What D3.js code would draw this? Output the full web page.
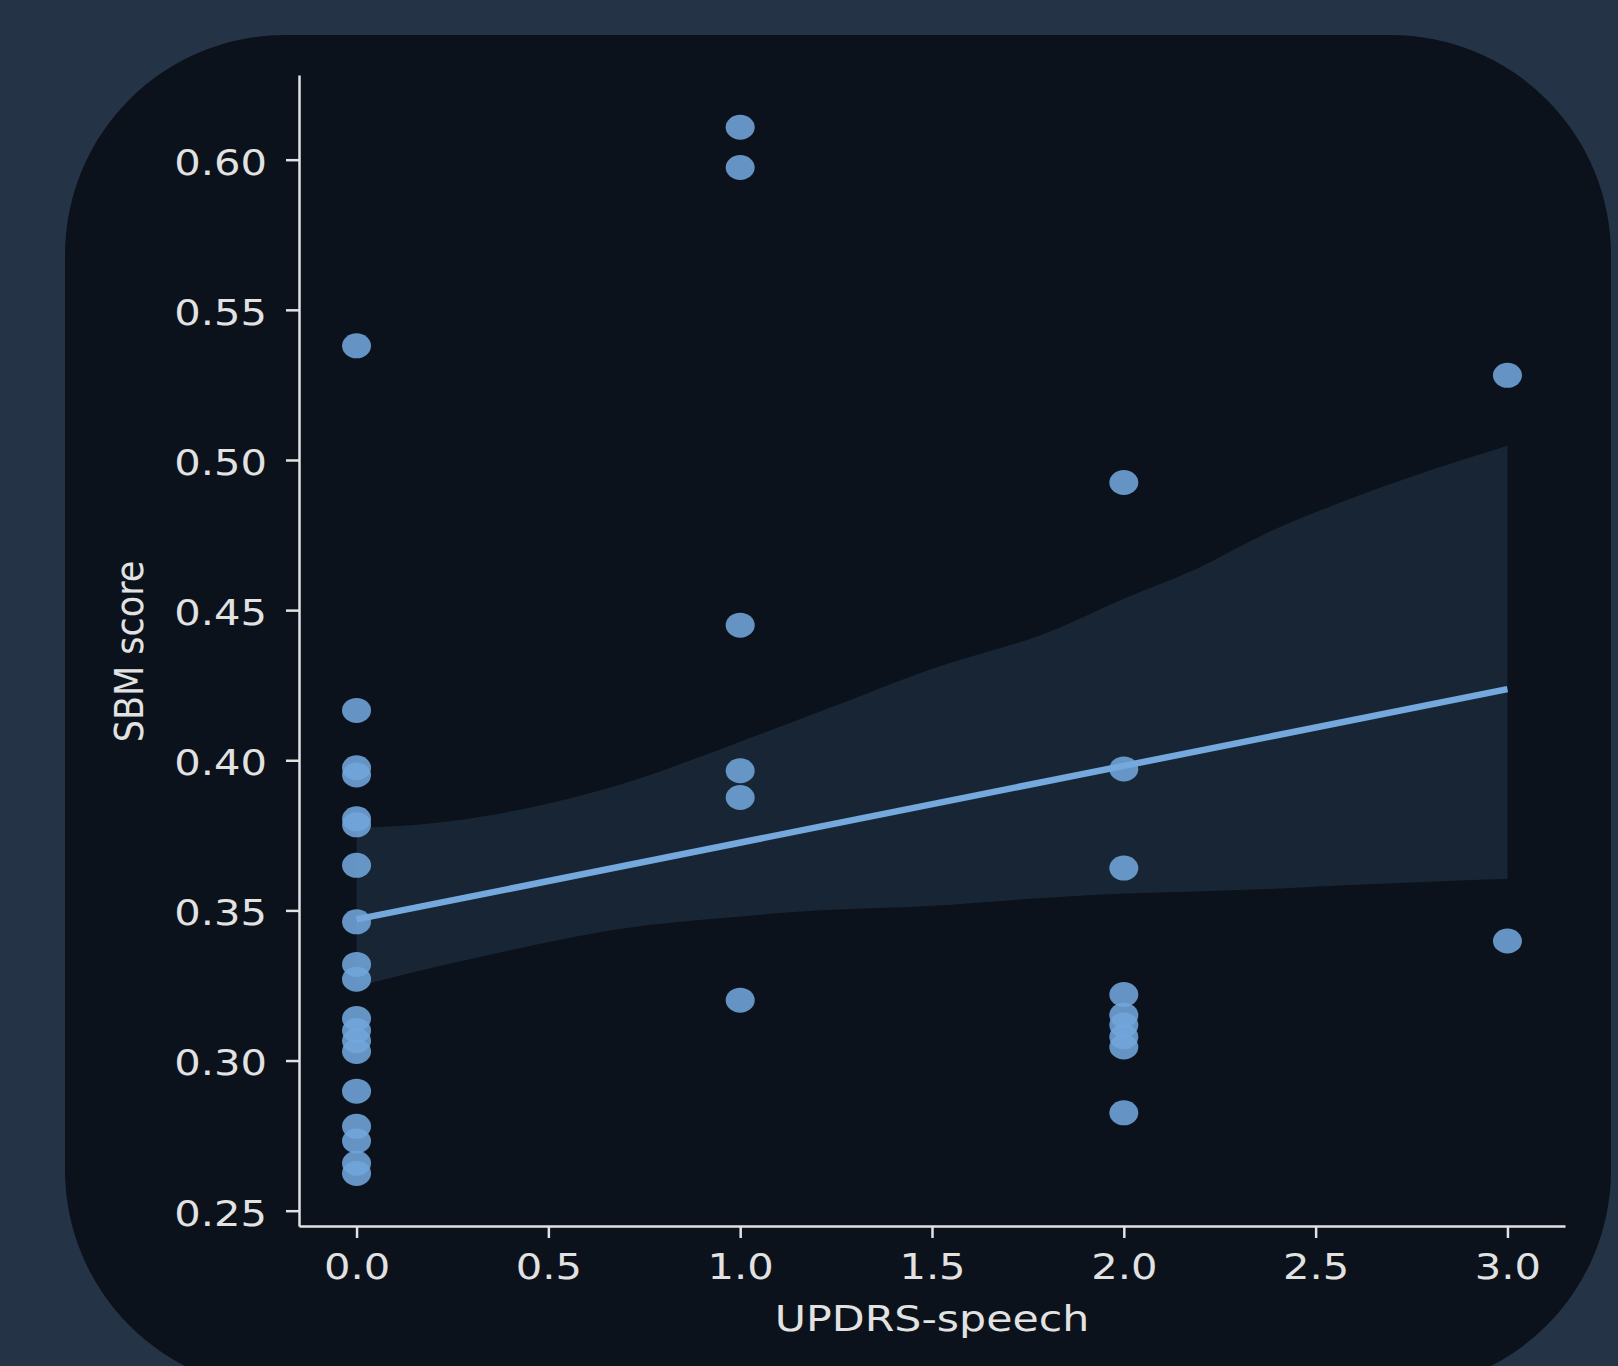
<!DOCTYPE html>
<html>
<head>
<meta charset="utf-8">
<script src="https://cdn.jsdelivr.net/npm/d3@7"></script>
<style>
body { margin: 0; background: #243446; }
svg { display: block; }
</style>
</head>
<body>
<svg id="chart" width="1618" height="1366"></svg>
<script>
// UPDRS-speech rating (x) and SBM score (y), one entry per subject
var speech = [0, 0, 0, 0, 0, 0, 0, 0, 0, 0, 0, 0, 0, 0, 0, 0, 0, 0, 0,
              1, 1, 1, 1, 1, 1,
              2, 2, 2, 2, 2, 2, 2, 2, 2,
              3, 3];
var sbm = [0.538, 0.4166, 0.3975, 0.3951, 0.3805, 0.3785, 0.3650, 0.3462, 0.3320, 0.3271,
           0.3140, 0.3100, 0.3066, 0.3030, 0.2898, 0.2781, 0.2732, 0.2658, 0.2624,
           0.6108, 0.5974, 0.4450, 0.3965, 0.3876, 0.3201,
           0.4925, 0.3971, 0.3641, 0.3220, 0.3151, 0.3118, 0.3079, 0.3045, 0.2826,
           0.5282, 0.3398];

// fitted regression line
var fitX = [0, 3];
var fitY = [0.347, 0.4237];

// confidence band around the fit
var bandX    = [0, 0.15, 0.34, 0.52, 0.69, 1.0, 1.22, 1.49, 1.81, 2.0, 2.19, 2.37, 2.56, 2.75, 3.0];
var bandHigh = [0.3775, 0.3784, 0.3815, 0.3862, 0.3920, 0.4062, 0.4168, 0.4300, 0.4430, 0.4538, 0.4638, 0.4755, 0.4856, 0.4944, 0.5047];
var bandLow  = [0.3245, 0.3295, 0.3350, 0.3400, 0.3439, 0.3480, 0.3501, 0.3515, 0.3543, 0.3556, 0.3563, 0.3571, 0.3583, 0.3593, 0.3605];

var xTicks = [0, 0.5, 1, 1.5, 2, 2.5, 3];
var yTicks = [0.25, 0.30, 0.35, 0.40, 0.45, 0.50, 0.55, 0.60];
var xDomain = [-0.15, 3.15];
var yDomain = [0.2449, 0.6282];

var svg = d3.select("#chart");

// dark rounded panel
svg.append("rect")
  .attr("x", 65).attr("y", 35)
  .attr("width", 1546).attr("height", 1355)
  .attr("rx", 220).attr("ry", 220)
  .attr("fill", "#0b121c");

var margin = {top: 75, left: 299},
    width = 1266,
    height = 1151;

var g = svg.append("g")
  .attr("transform", "translate(" + margin.left + "," + margin.top + ")");

var x = d3.scaleLinear().domain(xDomain).range([0, width]);
var y = d3.scaleLinear().domain(yDomain).range([height, 0]);

var stretch = 1.19;   // the picture is a little wider than tall
var ink = "#e2e2e2";

// points
g.selectAll("ellipse")
  .data(speech)
  .enter()
  .append("ellipse")
  .attr("cx", function(d) { return x(d); })
  .attr("cy", function(d, i) { return y(sbm[i]); })
  .attr("rx", 14.5)
  .attr("ry", 12.5)
  .attr("fill", "#72a6dc")
  .attr("fill-opacity", 0.88);

// confidence band
var area = d3.area()
  .curve(d3.curveMonotoneX)
  .x(function(d, i) { return x(bandX[i]); })
  .y0(function(d, i) { return y(bandLow[i]); })
  .y1(function(d, i) { return y(bandHigh[i]); });
g.append("path")
  .datum(bandX)
  .attr("d", area)
  .attr("fill", "#75a8dc")
  .attr("fill-opacity", 0.13);

// regression line
var line = d3.line()
  .x(function(d, i) { return x(fitX[i]); })
  .y(function(d, i) { return y(fitY[i]); });
g.append("path")
  .datum(fitX)
  .attr("d", line)
  .attr("fill", "none")
  .attr("stroke", "#75a8dc")
  .attr("stroke-width", 6.5);

// X axis
var xAxis = g.append("g")
  .attr("transform", "translate(0," + height + ")")
  .call(d3.axisBottom(x).tickValues(xTicks).tickFormat(d3.format(".1f")).tickSize(12).tickSizeOuter(0));
xAxis.selectAll("text")
  .attr("y", 28)
  .attr("dy", "0.71em")
  .attr("transform", "scale(" + stretch + ",1)");

// Y axis
var yAxis = g.append("g")
  .call(d3.axisLeft(y).tickValues(yTicks).tickFormat(d3.format(".2f")).tickSize(13).tickSizeOuter(0));
yAxis.selectAll("text")
  .attr("x", -32 / stretch)
  .attr("dy", "0.41em")
  .attr("transform", "scale(" + stretch + ",1)");

[xAxis, yAxis].forEach(function(a) {
  a.attr("font-family", "DejaVu Sans").attr("font-size", 35);
  a.select(".domain").attr("stroke", ink).attr("stroke-width", 2.5);
  a.selectAll(".tick line").attr("stroke", ink).attr("stroke-width", 2.5);
  a.selectAll(".tick text").attr("fill", ink);
});

// axis titles
g.append("text")
  .attr("transform", "translate(" + (width / 2) + "," + (height + 105) + ") scale(1.22,1)")
  .attr("text-anchor", "middle")
  .attr("font-family", "DejaVu Sans")
  .attr("font-size", 35)
  .attr("fill", ink)
  .text("UPDRS-speech");

g.append("text")
  .attr("transform", "translate(" + (143 - margin.left) + "," + (height / 2 + 1) + ") scale(1.1,1) rotate(-90)")
  .attr("text-anchor", "middle")
  .attr("font-family", "DejaVu Sans")
  .attr("font-size", 35)
  .attr("fill", ink)
  .text("SBM score");
</script>
</body>
</html>
